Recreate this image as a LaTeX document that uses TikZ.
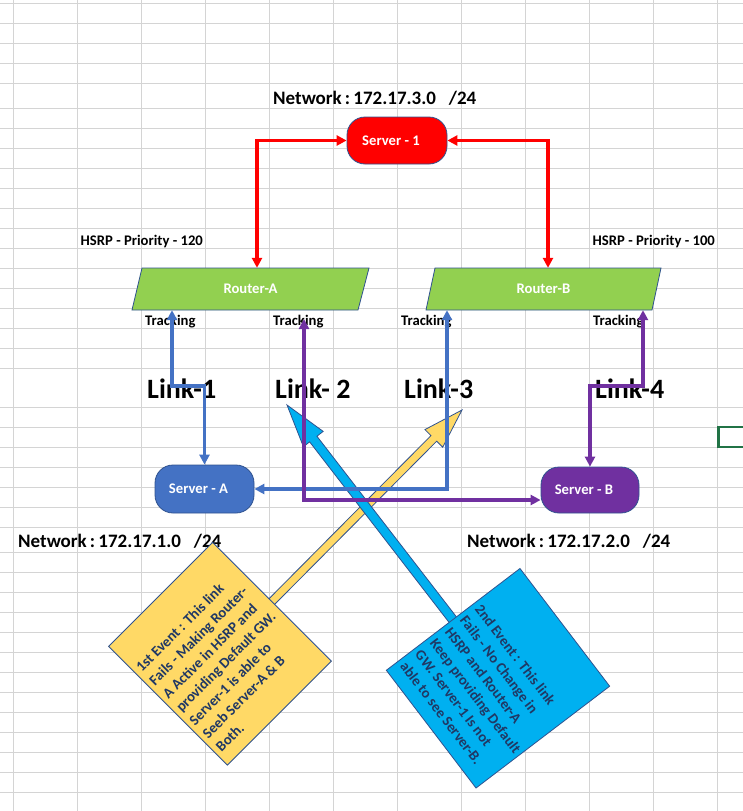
\documentclass[tikz,border=0pt]{standalone}
\usepackage{fontspec}
\setmainfont{Carlito}
\usetikzlibrary{arrows.meta,calc}
\definecolor{gridc}{HTML}{D4D4D4}
\definecolor{xred}{HTML}{FF0000}
\definecolor{xblue}{HTML}{4472C4}
\definecolor{xpurple}{HTML}{7030A0}
\definecolor{xgreen}{HTML}{92D050}
\definecolor{xborder}{HTML}{2F528F}
\definecolor{xyellow}{HTML}{FFD966}
\definecolor{xcyan}{HTML}{00B0F0}
\definecolor{xtext}{HTML}{203864}
\definecolor{selgreen}{HTML}{217346}
\newcommand\blkarrow[6]{%
  \coordinate (blkc) at ($(#2)!#5!(#1)$);
  \filldraw[#6] ($(#1)!#3!90:(#2)$) -- ($(blkc)!#3!90:(#2)$) -- ($(blkc)!#4!90:(#2)$) -- (#2)
     -- ($(blkc)!#4!-90:(#2)$) -- ($(blkc)!#3!-90:(#2)$) -- ($(#1)!#3!-90:(#2)$) -- cycle;}
\tikzset{
  gridline/.style={gridc, line width=1pt},
  celltext/.style={inner sep=0pt, anchor=base west, font=\bfseries\fontsize{14.67}{17}\selectfont},
  nettext/.style={inner sep=0pt, anchor=base west, font=\bfseries\fontsize{19}{22}\selectfont},
  linktext/.style={inner sep=0pt, anchor=base west, font=\bfseries\fontsize{28}{32}\selectfont},
  server/.style={rounded corners=18pt, draw=xborder, line width=0.8pt, minimum width=100pt,
     minimum height=47pt, inner sep=0pt, text=white, font=\bfseries\fontsize{14.67}{17}\selectfont},
  routerbox/.style={fill=xgreen, draw=xborder, line width=0.8pt},
  routertext/.style={inner sep=0pt, minimum width=227pt, minimum height=42pt, text=white,
     font=\bfseries\fontsize{14.67}{17}\selectfont},
  tipA/.style={{Triangle[length=10pt,width=10pt]}-{Triangle[length=10pt,width=10pt]}},
  conn/.style={line width=3.2pt, tipA},
  evbox/.style={draw=xborder, line width=0.8pt, inner sep=0pt, minimum width=147pt, minimum height=168pt},
  evtext/.style={anchor=south west, inner xsep=5pt, inner ysep=13pt, align=left, text=xtext,
     font=\bfseries\fontsize{14.67}{18.8}\selectfont},
  blockedge/.style={draw=xborder, line width=0.8pt},
}
\begin{document}
\begin{tikzpicture}[x=1pt,y=-1pt]
\useasboundingbox (0,0) rectangle (743,811);
% spreadsheet grid
\foreach \x in {13,77,...,717} \draw[gridline] (\x,0) -- (\x,811);
\foreach \y in {3,23,43,63,83,108,128,148,...,368,407,427,...,527,552,572,...,792} \draw[gridline] (0,\y) -- (743,\y);
\draw[selgreen, line width=2.6pt] (718.3,427) rectangle (790,447);
% cell texts
\node[nettext] (net3) at (273,104) {Network\,:\,172.17.3.0\ \ \ /24};
\node[nettext] (net1) at (18,547) {Network\,:\,172.17.1.0\ \ \ /24};
\node[nettext] (net2) at (467,547) {Network\,:\,172.17.2.0\ \ \ /24};
\node[celltext] (hsrpa) at (80.5,245) {HSRP - Priority - 120};
\node[celltext] (hsrpb) at (592.5,245) {HSRP - Priority - 100};
\node[celltext] (tr1) at (145,325) {Tracking};
\node[celltext] (tr2) at (273,325) {Tracking};
\node[celltext] (tr3) at (401,325) {Tracking};
\node[celltext] (tr4) at (593,325) {Tracking};
\node[linktext] (lk1) at (147,398) {Link-1};
\node[linktext] (lk2) at (275,398) {Link- 2};
\node[linktext] (lk3) at (404,398) {Link-3};
\node[linktext] (lk4) at (595,398) {Link-4};
% block arrows
\coordinate (ev1c) at (220,653.75);
\coordinate (ev2c) at (498,678.25);
\coordinate (tipY) at (462,410);
\coordinate (tipB) at (287,405);
\blkarrow{ev1c}{tipY}{4pt}{12.5pt}{40pt}{fill=xyellow, blockedge}
\blkarrow{ev2c}{tipB}{4.6pt}{12.5pt}{43pt}{fill=xcyan, blockedge}
% event boxes
\node[evbox, fill=xyellow, rotate=45] (ev1) at (ev1c) {};
\node[evtext, rotate=45] (ev1t) at (ev1.south west) {1st Event : This link\\Fails - Making Router-\\A Active in HSRP and\\providing Default GW.\\Server-1 is able to\\Seeb Server-A \& B\\Both.};
\node[evbox, fill=xcyan, rotate=-52.7, minimum width=148pt] (ev2) at (ev2c) {};
\node[evtext, rotate=-52.7] (ev2t) at (ev2.south west) {2nd Event : This link\\Fails - No Change in\\HSRP and Router-A\\Keep providing Default\\GW. Server-1 Is not\\able to see Server-B.};
% routers
\draw[routerbox] (132,310) -- (142,268) -- (369,268) -- (358,310) -- cycle;
\node[routertext] (ra) at (250.5,289) {Router-A};
\draw[routerbox] (426,310) -- (435,268) -- (661,268) -- (652,310) -- cycle;
\node[routertext] (rb) at (543.5,289) {Router-B};
% servers
\node[server, fill=xred] (s1) at (397,140.5) {Server - 1\kern12pt};
\node[server, fill=xblue, minimum width=99pt, minimum height=48pt] (sa) at (204.5,489) {Server - A\kern12pt};
\node[server, fill=xpurple, minimum width=98pt, minimum height=46pt] (sb) at (590,490) {Server - B\kern12pt};
% connectors
\coordinate (l2end) at (304,319);
\draw[conn, xred] (ra.north -| 257,0) |- (s1.west);
\draw[conn, xred] (rb.north -| 548,0) |- (s1.east);
\draw[conn, xblue] (ra.south -| 172,0) -- (172,386) -| (sa.north);
\draw[conn, xblue] (rb.south -| 447,0) |- (sa.east);
\draw[conn, xpurple] (l2end) |- (sb.west |- 0,500);
\draw[conn, xpurple] (rb.south -| 643,0) -- (643,386) -| (sb.north);
\end{tikzpicture}
\end{document}
